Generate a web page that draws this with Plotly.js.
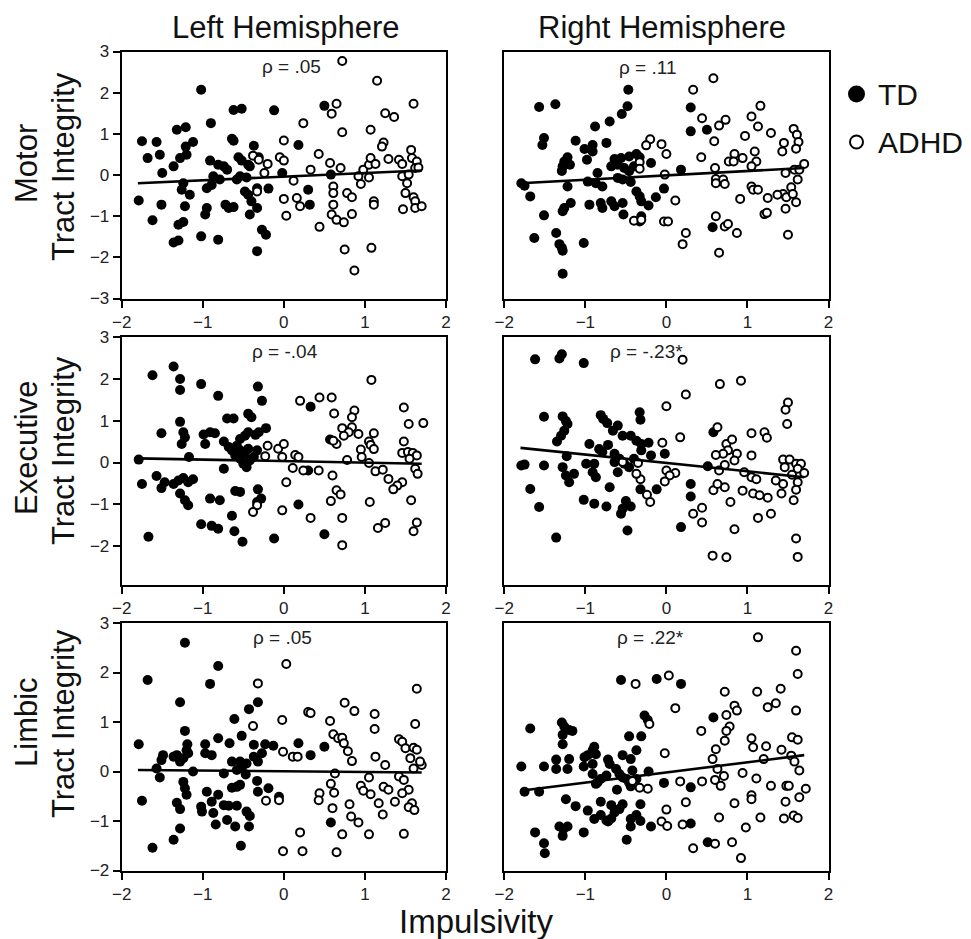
<!DOCTYPE html>
<html>
<head>
<meta charset="utf-8">
<script src="https://cdn.plot.ly/plotly-3.0.1.min.js"></script>
<style>html,body{margin:0;padding:0;background:#fff}#chart{width:971px;height:939px}</style>
</head>
<body>
<div id="chart"></div>
<script>
// ---------------- DATA ----------------
const columnTitles = ["Left Hemisphere", "Right Hemisphere"];
const rowTitles = ["Motor", "Executive", "Limbic"];
const yAxisWord = "Tract Integrity";
const xAxisTitle = "Impulsivity";
const groupNames = ["TD", "ADHD"];
const xTicks = [-2, -1, 0, 1, 2];
const yTicksRow1 = [-3, -2, -1, 0, 1, 2, 3];
const yTicksRow2 = [-2, -1, 0, 1, 2, 3];
const yTicksRow3 = [-2, -1, 0, 1, 2, 3];
const rhoLabels = ["ρ = .05", "ρ = .11", "ρ = -.04", "ρ = -.23*", "ρ = .05", "ρ = .22*"];

// [impulsivity, tract integrity] pairs
const motorLeftTD = [[-1.02,2.07],[-0.62,1.58],[-0.52,1.61],[-0.12,1.57],[-0.90,1.26],[-1.32,1.10],[-1.21,1.16],[-1.75,0.82],[-1.57,0.80],[-1.12,0.80],[-1.21,0.69],[-0.64,0.88],[-0.62,0.83],[-0.37,0.71],[0.18,0.73],[-1.68,0.41],[-1.53,0.49],[-1.28,0.41],[-1.20,0.49],[-1.36,0.21],[-1.50,0.05],[-0.91,0.35],[-0.81,0.25],[-0.74,0.21],[-0.70,0.13],[-0.56,0.43],[-0.52,0.35],[-0.44,0.25],[-0.42,0.21],[-0.31,0.43],[-0.87,-0.03],[-0.79,-0.11],[-0.89,-0.24],[-0.54,-0.03],[-0.46,-0.06],[-0.58,-0.11],[-0.02,0.05],[0.58,0.01],[-1.24,-0.20],[-1.26,-0.36],[-1.16,-0.48],[-1.22,-0.76],[-1.79,-0.62],[-1.51,-0.72],[-0.95,-0.32],[-0.95,-0.80],[-0.97,-0.96],[-0.72,-0.72],[-0.68,-0.80],[-0.62,-0.78],[-0.48,-0.40],[-0.44,-0.48],[-0.40,-0.64],[-0.33,-0.80],[-0.42,-0.96],[-0.33,-0.32],[-0.19,-0.33],[0.30,-0.36],[0.32,-0.72],[-1.62,-1.10],[-1.30,-1.21],[-1.24,-1.14],[-1.36,-1.64],[-1.30,-1.59],[-1.02,-1.49],[-0.81,-1.57],[-0.27,-1.33],[-0.22,-1.45],[-0.33,-1.85],[0.50,1.68]];
const motorLeftADHD = [[0.72,2.77],[1.15,2.29],[0.65,1.73],[0.59,1.49],[1.60,1.73],[1.25,1.50],[1.36,1.41],[0.24,1.26],[0.72,1.04],[1.07,1.10],[0.00,0.84],[1.23,0.79],[1.21,0.69],[1.57,0.61],[-0.05,0.43],[0.00,0.35],[-0.38,0.47],[-0.31,0.37],[-0.20,0.27],[-0.24,0.05],[0.43,0.51],[0.57,0.29],[0.70,0.17],[0.33,0.13],[0.12,-0.14],[0.98,0.13],[0.92,-0.03],[1.05,0.25],[1.07,0.41],[1.13,0.27],[1.29,0.39],[1.42,0.37],[1.46,0.27],[1.58,0.41],[1.64,0.33],[1.62,0.17],[1.46,-0.03],[1.54,0.01],[1.66,0.18],[1.05,-0.06],[0.95,-0.22],[1.52,-0.20],[1.50,-0.44],[1.60,-0.54],[1.62,-0.64],[1.62,-0.80],[1.70,-0.76],[1.47,-0.83],[1.11,-0.64],[1.11,-0.72],[0.61,-0.28],[0.61,-0.44],[0.61,-0.72],[0.59,-0.96],[0.65,-1.09],[0.74,-1.15],[0.84,-0.95],[0.78,-0.44],[0.84,-0.54],[0.00,-0.58],[0.16,-0.56],[0.20,-0.76],[0.03,-0.99],[0.44,-1.26],[-0.33,-0.40],[0.75,-1.81],[1.08,-1.77],[0.87,-2.32]];
const motorRightTD = [[-0.47,2.07],[-0.48,1.67],[-0.55,1.48],[-1.57,1.65],[-1.37,1.72],[-0.70,1.30],[-0.88,1.18],[0.30,1.64],[0.30,1.06],[0.50,1.10],[-1.51,0.90],[-1.53,0.73],[-1.12,0.83],[-0.91,0.73],[-1.01,0.63],[-0.91,0.57],[-0.98,0.37],[-0.74,0.78],[-1.22,0.43],[-1.26,0.33],[-1.28,0.21],[-1.19,0.25],[-1.29,0.10],[-0.64,0.39],[-0.56,0.41],[-0.46,0.45],[-0.37,0.51],[-0.33,0.43],[-0.68,0.21],[-0.60,0.25],[-0.52,0.17],[-0.46,0.09],[-0.40,0.21],[-0.19,0.29],[-0.85,0.05],[-0.97,-0.16],[-0.87,-0.20],[-0.79,-0.28],[-0.60,-0.07],[-0.54,-0.11],[-0.44,-0.17],[0.18,0.13],[-1.79,-0.20],[-1.75,-0.26],[-1.22,-0.28],[-1.68,-0.52],[-0.37,-0.40],[-0.33,-0.52],[-0.31,-0.64],[-0.03,-0.33],[-0.13,-0.54],[-0.22,-0.74],[-1.18,-0.68],[-1.26,-0.80],[-1.28,-0.88],[-0.95,-0.72],[-0.81,-0.68],[-0.79,-0.80],[-0.68,-0.64],[-0.64,-0.76],[-0.54,-0.68],[-0.53,-0.96],[-1.51,-0.98],[-0.31,-1.00],[-0.33,-1.13],[0.57,-1.27],[-1.63,-1.53],[-1.36,-1.41],[-1.32,-1.68],[-1.29,-1.77],[-1.28,-1.84],[-1.02,-1.65],[-1.28,-2.40]];
const motorRightADHD = [[0.58,2.35],[0.33,2.07],[0.44,1.38],[0.65,1.20],[0.73,1.34],[0.59,0.82],[1.05,1.42],[1.16,1.68],[1.13,1.18],[0.97,0.95],[1.29,1.02],[1.57,1.12],[1.61,0.98],[1.63,0.80],[1.60,0.64],[1.45,0.78],[1.43,0.57],[-0.20,0.87],[-0.25,0.72],[-0.06,0.75],[0.00,0.51],[-0.33,0.31],[-0.33,0.15],[0.43,0.43],[0.84,0.51],[0.77,0.33],[0.83,0.33],[0.94,0.41],[1.09,0.57],[1.11,0.33],[1.05,0.21],[0.60,0.17],[-0.02,0.01],[0.61,-0.10],[0.70,-0.11],[0.72,-0.22],[0.61,-0.20],[1.05,-0.28],[1.07,-0.36],[1.13,-0.36],[1.47,0.05],[1.58,0.13],[1.64,0.13],[1.70,0.27],[1.62,-0.11],[1.54,-0.30],[1.44,-0.46],[1.37,-0.48],[1.48,-0.54],[1.56,-0.46],[1.60,-0.66],[1.25,-0.56],[0.91,-0.58],[1.47,-0.82],[1.21,-0.95],[1.24,-0.92],[0.11,-0.62],[-0.40,-1.11],[-0.31,-1.09],[-0.03,-1.13],[0.02,-1.13],[0.61,-1.00],[0.72,-1.25],[0.76,-1.19],[0.87,-1.41],[0.24,-1.41],[0.20,-1.68],[0.65,-1.89],[1.50,-1.45]];
const execLeftTD = [[-1.62,2.08],[-1.36,2.29],[-1.28,1.99],[-1.28,1.73],[-1.02,1.87],[-0.81,1.59],[-0.32,1.81],[-0.27,1.47],[0.33,1.33],[-1.28,0.97],[-1.51,0.70],[-1.24,0.72],[-1.22,0.60],[-1.26,0.44],[-0.99,0.67],[-0.91,0.72],[-0.85,0.70],[-0.97,0.44],[-0.70,1.05],[-0.62,1.05],[-0.44,1.16],[-0.40,1.08],[-0.74,0.50],[-0.68,0.37],[-0.64,0.29],[-0.58,0.40],[-0.54,0.56],[-0.48,0.64],[-0.44,0.72],[-0.35,0.66],[-0.31,0.72],[-0.22,0.82],[-0.60,0.17],[-0.54,0.09],[-0.50,-0.03],[-0.46,-0.11],[-0.42,0.05],[-0.37,0.13],[-0.48,0.21],[-0.54,0.29],[-0.44,0.33],[-0.33,0.29],[-1.79,0.07],[-1.17,0.13],[-0.74,-0.15],[0.30,-0.19],[-1.75,-0.51],[-1.57,-0.32],[-1.51,-0.61],[-1.47,-0.47],[-1.36,-0.51],[-1.30,-0.43],[-1.24,-0.37],[-1.18,-0.47],[-1.12,-0.40],[-1.28,-0.74],[-1.22,-0.90],[-1.18,-1.02],[-0.91,-0.86],[-0.79,-0.90],[-0.60,-0.68],[-0.54,-0.70],[-0.32,-0.64],[-0.28,-0.86],[-0.33,-0.94],[0.18,-1.00],[-0.64,-1.27],[-1.02,-1.47],[-0.89,-1.51],[-0.81,-1.58],[-0.61,-1.64],[-0.51,-1.89],[-0.12,-1.81],[0.50,-1.71],[-1.67,-1.77],[0.57,0.55]];
const execLeftADHD = [[1.08,1.97],[0.20,1.47],[0.44,1.55],[0.59,1.55],[0.62,1.17],[0.87,1.24],[0.84,1.08],[0.72,0.82],[0.84,0.84],[0.92,0.68],[0.80,0.72],[0.74,0.64],[0.65,0.44],[0.61,0.52],[1.11,0.70],[1.05,0.50],[1.07,0.42],[1.11,0.32],[0.95,0.31],[0.96,0.13],[1.05,-0.01],[1.48,1.31],[1.54,0.92],[1.72,0.94],[1.48,0.50],[1.46,0.23],[1.53,0.25],[1.59,0.23],[1.64,0.17],[1.55,0.09],[1.62,-0.15],[1.65,-0.27],[-0.20,0.40],[-0.07,0.33],[0.00,0.44],[-0.02,0.13],[0.14,0.18],[0.18,0.13],[-0.23,0.15],[0.78,0.06],[0.11,-0.13],[0.24,-0.19],[0.43,-0.19],[1.13,-0.21],[1.22,-0.17],[1.29,-0.39],[1.46,-0.47],[1.40,-0.55],[1.35,-0.64],[0.60,-0.31],[0.03,-0.47],[0.65,-0.66],[0.70,-0.76],[0.58,-0.92],[1.06,-0.94],[1.57,-0.90],[-0.33,-1.02],[-0.38,-1.18],[-0.02,-1.14],[0.33,-1.32],[0.72,-1.32],[1.16,-1.56],[1.25,-1.44],[1.64,-1.43],[1.60,-1.64],[0.72,-1.97]];
const execRightTD = [[-1.62,2.46],[-1.32,2.48],[-1.29,2.58],[-1.02,2.37],[-1.51,1.09],[-1.28,1.10],[-1.24,0.99],[-1.22,0.92],[-1.26,0.76],[-1.30,0.64],[-1.35,0.50],[-0.81,1.13],[-0.78,1.04],[-0.73,0.94],[-0.60,0.88],[-0.66,0.76],[-0.54,0.64],[-0.44,0.64],[-0.37,0.52],[-0.31,0.44],[-0.22,0.47],[-0.33,1.20],[-0.32,1.02],[-0.95,0.44],[-0.83,0.32],[-0.72,0.42],[-0.79,0.25],[-1.23,0.15],[-1.28,-0.11],[-1.24,-0.31],[-1.20,-0.47],[-1.14,-0.27],[-1.79,-0.07],[-1.75,-0.05],[-1.51,-0.07],[-0.99,-0.03],[-0.89,-0.03],[-0.91,-0.23],[-0.87,-0.35],[-0.64,0.21],[-0.58,0.09],[-0.52,-0.03],[-0.64,0.01],[-0.60,-0.23],[-0.46,-0.11],[-0.40,0.09],[-0.31,0.29],[-0.19,0.17],[-0.02,0.21],[0.51,-0.09],[-1.68,-0.63],[-1.57,-1.06],[-1.02,-0.89],[-0.89,-0.98],[-0.74,-1.05],[-0.70,-0.59],[-0.32,-0.64],[-0.12,-0.64],[-0.54,-1.10],[-0.50,-0.92],[-0.44,-1.05],[-0.56,-1.22],[0.30,-0.51],[0.30,-0.81],[-0.48,-1.62],[0.18,-1.54],[-1.36,-1.79],[0.58,0.72]];
const execRightADHD = [[0.20,2.45],[0.66,1.87],[0.92,1.95],[0.24,1.62],[0.00,1.34],[0.17,0.60],[0.63,0.84],[-0.05,0.47],[0.74,0.44],[0.81,0.55],[0.76,0.29],[0.70,0.21],[0.61,0.18],[0.87,0.21],[0.84,0.05],[0.72,-0.06],[0.65,-0.19],[1.05,0.70],[1.21,0.72],[1.24,0.59],[1.05,0.17],[1.50,1.43],[1.47,1.26],[1.49,0.92],[1.44,0.07],[1.52,0.07],[1.60,-0.03],[1.66,-0.03],[1.62,-0.15],[1.70,-0.25],[1.55,-0.29],[1.46,-0.11],[1.62,-0.47],[1.60,-0.65],[1.57,-0.90],[0.96,-0.23],[1.05,-0.35],[1.11,-0.40],[1.35,-0.43],[1.44,-0.51],[1.42,-0.74],[0.94,-0.67],[1.07,-0.74],[1.15,-0.78],[1.25,-0.84],[0.58,-0.66],[0.72,-0.59],[0.63,-0.51],[0.79,-0.94],[0.00,-0.19],[0.11,-0.25],[0.04,-0.31],[-0.02,-0.45],[-0.32,-0.40],[-0.37,-0.27],[-0.54,0.01],[-0.35,-0.01],[-0.24,-0.77],[-0.20,-0.94],[0.44,-1.08],[0.33,-1.22],[0.44,-1.43],[0.84,-1.59],[1.13,-1.32],[1.29,-1.22],[1.60,-1.81],[0.57,-2.22],[0.74,-2.26],[1.62,-2.25]];
const limbicLeftTD = [[-1.22,2.60],[-0.81,2.13],[-1.68,1.85],[-0.91,1.77],[-1.28,1.40],[-0.32,1.40],[-0.43,1.26],[-0.61,1.06],[-0.52,0.72],[-0.81,0.67],[-0.67,0.57],[-1.22,0.82],[-1.19,0.55],[-1.20,0.43],[-1.18,0.37],[-1.24,0.27],[-1.28,0.20],[-1.32,0.33],[-1.36,0.30],[-1.49,0.33],[-1.51,0.23],[-1.57,0.06],[-1.53,-0.12],[-1.79,0.55],[-1.12,0.00],[-0.97,0.55],[-0.97,0.37],[-0.89,0.33],[-0.74,-0.04],[-0.64,0.20],[-0.54,0.20],[-0.52,0.06],[-0.46,0.16],[-0.47,-0.06],[-0.58,0.03],[-0.37,0.30],[-0.32,0.20],[-0.27,0.37],[-0.23,0.55],[-0.13,0.52],[-0.37,0.54],[0.18,0.57],[0.33,0.33],[0.50,0.50],[-1.24,-0.21],[-1.22,-0.34],[-1.20,-0.47],[-0.33,-0.19],[-0.32,-0.41],[-0.19,-0.34],[-0.64,-0.33],[-0.58,-0.31],[-0.54,-0.27],[-0.95,-0.41],[-0.81,-0.47],[-0.89,-0.61],[-0.74,-0.68],[-0.68,-0.69],[-0.58,-0.69],[-1.75,-0.59],[-1.32,-0.63],[-1.28,-0.76],[-1.02,-0.71],[-1.01,-0.81],[-0.87,-0.84],[-0.46,-0.81],[-0.42,-0.90],[-0.84,-1.07],[-0.70,-0.98],[-0.60,-1.11],[-0.43,-1.11],[-1.28,-1.15],[-1.36,-1.38],[-1.62,-1.54],[-0.53,-1.50],[0.58,-1.03],[-0.06,-0.51]];
const limbicLeftADHD = [[0.03,2.17],[-0.32,1.78],[1.64,1.67],[-0.02,1.04],[-0.38,0.92],[0.30,1.20],[0.33,1.18],[0.75,1.39],[0.87,1.22],[1.12,1.16],[1.12,0.86],[1.62,0.96],[0.57,1.02],[0.61,0.75],[0.67,0.67],[0.72,0.68],[0.74,0.57],[0.79,0.41],[0.84,0.21],[-0.01,0.40],[0.11,0.30],[0.17,0.30],[1.13,0.30],[1.25,0.13],[1.42,0.65],[1.46,0.60],[1.50,0.47],[1.60,0.48],[1.64,0.44],[1.56,0.27],[1.60,0.06],[1.70,0.13],[1.68,0.20],[0.63,-0.04],[0.58,-0.25],[0.62,-0.43],[1.05,-0.12],[0.95,-0.29],[0.98,-0.39],[1.07,-0.46],[1.17,-0.64],[1.22,-0.87],[1.23,-0.31],[1.29,-0.37],[1.37,-0.61],[1.42,-0.10],[1.48,-0.17],[1.54,-0.37],[1.46,-0.44],[1.58,-0.64],[1.54,-0.72],[1.61,-0.78],[0.44,-0.44],[0.43,-0.58],[-0.22,-0.59],[-0.06,-0.58],[0.60,-0.74],[0.81,-0.66],[0.83,-0.91],[0.92,-1.03],[0.72,-1.27],[1.05,-1.27],[1.48,-1.26],[0.20,-1.23],[-0.01,-1.61],[0.23,-1.61],[0.65,-1.63]];
const limbicRightTD = [[-0.56,1.85],[-0.12,1.87],[0.18,1.77],[-0.27,1.13],[-0.23,1.04],[-1.68,0.87],[-1.29,0.99],[-1.26,0.91],[-1.20,0.84],[-1.16,0.82],[-1.28,0.74],[-1.28,0.55],[-0.46,0.71],[-0.31,0.71],[-0.89,0.50],[-0.91,0.43],[-0.37,0.43],[-0.54,0.33],[-0.44,0.25],[0.58,1.09],[-1.79,0.10],[-1.51,0.10],[-1.36,0.24],[-1.36,0.05],[-1.20,0.25],[-1.22,0.05],[-1.01,0.29],[-0.97,0.33],[-1.02,0.10],[-0.91,0.15],[-0.87,0.35],[-0.91,-0.05],[-0.72,0.24],[-0.70,0.15],[-0.74,-0.08],[-0.81,-0.15],[-0.85,-0.22],[-0.87,-0.25],[-0.62,0.05],[-0.58,-0.05],[-0.54,-0.12],[-0.46,-0.22],[-0.42,0.02],[-0.37,-0.15],[-0.44,-0.30],[-0.49,-0.15],[-0.22,0.00],[-0.61,-0.37],[-0.03,-0.23],[0.30,-0.32],[-1.75,-0.41],[-1.57,-0.41],[-1.24,-0.56],[-1.12,-0.70],[-0.97,-0.79],[-0.89,-0.96],[-0.81,-0.61],[-0.81,-0.88],[-0.74,-0.99],[-0.68,-0.68],[-0.64,-0.83],[-0.58,-0.76],[-0.54,-0.66],[-0.68,-0.95],[-0.72,-1.01],[-0.32,-0.66],[-0.44,-0.96],[-0.37,-0.88],[-0.32,-1.00],[-0.44,-1.11],[-0.19,-1.11],[-1.62,-1.23],[-1.32,-1.11],[-1.27,-1.16],[-1.22,-1.11],[-1.28,-1.30],[-1.02,-1.23],[-1.51,-1.45],[-1.50,-1.65],[-0.49,-1.38],[0.30,-1.05],[0.51,-1.43]];
const limbicRightADHD = [[1.13,2.71],[1.60,2.44],[1.62,1.97],[0.03,1.94],[-0.38,1.77],[0.11,1.28],[0.72,1.61],[1.12,1.61],[1.41,1.67],[0.84,1.33],[0.87,1.23],[0.74,1.14],[1.25,1.30],[1.35,1.38],[1.60,1.23],[-0.21,0.96],[0.43,0.82],[0.78,0.91],[0.74,0.82],[0.72,0.62],[0.61,0.45],[1.05,0.67],[1.07,0.49],[1.23,0.51],[1.42,0.44],[1.55,0.69],[1.62,0.64],[0.57,0.25],[0.63,0.05],[0.60,-0.17],[0.67,-0.29],[0.71,-0.09],[1.20,0.25],[1.54,0.32],[1.58,0.20],[1.64,0.02],[-0.02,0.37],[0.94,-0.03],[1.11,-0.14],[1.29,-0.29],[1.48,-0.29],[1.51,-0.29],[1.72,-0.35],[1.64,-0.52],[1.05,-0.48],[1.05,-0.56],[0.84,-0.64],[1.47,-0.61],[0.17,-0.20],[0.44,-0.20],[-0.33,-0.33],[-0.23,-0.35],[-0.42,-0.19],[0.24,-0.62],[0.00,-0.77],[-0.06,-1.01],[0.01,-1.10],[0.20,-1.07],[0.65,-0.93],[0.98,-1.13],[1.16,-0.93],[1.45,-0.95],[1.57,-0.89],[1.62,-0.94],[0.33,-1.55],[0.60,-1.46],[0.81,-1.43],[0.92,-1.75]];

// regression line end points (x from fitX)
const fitX = [-1.8, 1.7];
const motorLeftFit = [-0.20, 0.11];
const motorRightFit = [-0.20, 0.17];
const execLeftFit = [0.10, -0.03];
const execRightFit = [0.35, -0.35];
const limbicLeftFit = [0.03, -0.02];
const limbicRightFit = [-0.39, 0.33];

// ---------------- CHART ----------------
const FONT = 'Liberation Sans, Arial, Helvetica, sans-serif';
const W = 971, H = 939;
const px = v => v / W;
const py = v => 1 - v / H;

const panels = [
  {td: motorLeftTD,   ad: motorLeftADHD,   fit: motorLeftFit,   rho: rhoLabels[0], rhoPos: [0.10, 2.63]},
  {td: motorRightTD,  ad: motorRightADHD,  fit: motorRightFit,  rho: rhoLabels[1], rhoPos: [-0.23, 2.60]},
  {td: execLeftTD,    ad: execLeftADHD,    fit: execLeftFit,    rho: rhoLabels[2], rhoPos: [0.02, 2.64]},
  {td: execRightTD,   ad: execRightADHD,   fit: execRightFit,   rho: rhoLabels[3], rhoPos: [-0.25, 2.64]},
  {td: limbicLeftTD,  ad: limbicLeftADHD,  fit: limbicLeftFit,  rho: rhoLabels[4], rhoPos: [-0.02, 2.71]},
  {td: limbicRightTD, ad: limbicRightADHD, fit: limbicRightFit, rho: rhoLabels[5], rhoPos: [-0.20, 2.71]}
];

const colDomains = [[px(121.7), px(446)], [px(504.3), px(828.5)]];
const rowDomains = [[py(298.5), py(51.5)], [py(585), py(336.7)], [py(870.5), py(623)]];
const rowRanges = [[-3, 3], [-2.92, 3], [-2, 3]];
const rowTicks = [yTicksRow1, yTicksRow2, yTicksRow3];

const traces = [];
const layout = {
  width: W, height: H,
  margin: {l: 0, r: 0, t: 0, b: 0},
  paper_bgcolor: '#fff', plot_bgcolor: '#fff',
  showlegend: false,
  font: {family: FONT, color: '#111'},
  annotations: [], shapes: []
};

panels.forEach((p, i) => {
  const n = i + 1;
  const row = Math.floor(i / 2), col = i % 2;
  const xk = n === 1 ? 'x' : 'x' + n;
  const yk = n === 1 ? 'y' : 'y' + n;
  layout['xaxis' + (n === 1 ? '' : n)] = {
    domain: colDomains[col], anchor: yk, range: [-2, 2], tickvals: xTicks,
    ticks: 'outside', ticklen: 7, tickwidth: 2, tickcolor: '#000',
    showline: true, linecolor: '#000', linewidth: 2, mirror: true,
    showgrid: false, zeroline: false,
    tickfont: {family: FONT, size: 17, color: '#222'}
  };
  layout['yaxis' + (n === 1 ? '' : n)] = {
    domain: rowDomains[row], anchor: xk, range: rowRanges[row], tickvals: rowTicks[row],
    ticks: col === 0 ? 'outside' : '', ticklen: 7, tickwidth: 2, tickcolor: '#000',
    showticklabels: col === 0,
    showline: true, linecolor: '#000', linewidth: 2, mirror: true,
    showgrid: false, zeroline: false,
    tickfont: {family: FONT, size: 17, color: '#222'}
  };
  traces.push({
    type: 'scatter', mode: 'markers', name: groupNames[0], xaxis: xk, yaxis: yk,
    x: p.td.map(d => d[0]), y: p.td.map(d => d[1]),
    marker: {size: 10, color: '#000', line: {width: 0}}
  });
  traces.push({
    type: 'scatter', mode: 'markers', name: groupNames[1], xaxis: xk, yaxis: yk,
    x: p.ad.map(d => d[0]), y: p.ad.map(d => d[1]),
    marker: {size: 8, color: '#fff', line: {width: 2, color: '#000'}}
  });
  traces.push({
    type: 'scatter', mode: 'lines', xaxis: xk, yaxis: yk,
    x: fitX, y: p.fit, line: {color: '#000', width: 2.6}
  });
  layout.annotations.push({
    xref: xk, yref: yk, x: p.rhoPos[0], y: p.rhoPos[1], text: p.rho,
    showarrow: false, xanchor: 'center', yanchor: 'middle',
    font: {family: FONT, size: 19, color: '#222'}
  });
});

// column titles
layout.annotations.push({xref: 'paper', yref: 'paper', x: px(285), y: py(27), text: columnTitles[0],
  showarrow: false, xanchor: 'center', yanchor: 'middle', font: {family: FONT, size: 31, color: '#111'}});
layout.annotations.push({xref: 'paper', yref: 'paper', x: px(662), y: py(27), text: columnTitles[1],
  showarrow: false, xanchor: 'center', yanchor: 'middle', font: {family: FONT, size: 31, color: '#111'}});
// row titles
const rowCenters = [[164, 167], [448, 451], [722, 724]];
rowTitles.forEach((t, r) => {
  layout.annotations.push({xref: 'paper', yref: 'paper', x: px(26), y: py(rowCenters[r][0]), text: t,
    textangle: -90, showarrow: false, xanchor: 'center', yanchor: 'middle',
    font: {family: FONT, size: 31, color: '#111'}});
  layout.annotations.push({xref: 'paper', yref: 'paper', x: px(63), y: py(rowCenters[r][1]), text: yAxisWord,
    textangle: -90, showarrow: false, xanchor: 'center', yanchor: 'middle',
    font: {family: FONT, size: 31, color: '#111'}});
});
// x title
layout.annotations.push({xref: 'paper', yref: 'paper', x: px(476), y: py(921), text: xAxisTitle,
  showarrow: false, xanchor: 'center', yanchor: 'middle', font: {family: FONT, size: 33, color: '#111'}});
// legend
layout.shapes.push({type: 'circle', xref: 'paper', yref: 'paper', xsizemode: 'pixel', ysizemode: 'pixel',
  xanchor: px(856.5), yanchor: py(94), x0: -8.5, x1: 8.5, y0: -8.5, y1: 8.5,
  fillcolor: '#000', line: {width: 0}});
layout.shapes.push({type: 'circle', xref: 'paper', yref: 'paper', xsizemode: 'pixel', ysizemode: 'pixel',
  xanchor: px(856.5), yanchor: py(142), x0: -6.5, x1: 6.5, y0: -6.5, y1: 6.5,
  fillcolor: '#fff', line: {width: 2, color: '#000'}});
layout.annotations.push({xref: 'paper', yref: 'paper', x: px(876), y: py(94), text: groupNames[0],
  showarrow: false, xanchor: 'left', yanchor: 'middle', font: {family: FONT, size: 30, color: '#111'}});
layout.annotations.push({xref: 'paper', yref: 'paper', x: px(876), y: py(143), text: groupNames[1],
  showarrow: false, xanchor: 'left', yanchor: 'middle', font: {family: FONT, size: 30, color: '#111'}});

Plotly.newPlot('chart', traces, layout, {staticPlot: true, displayModeBar: false});
</script>
</body>
</html>
